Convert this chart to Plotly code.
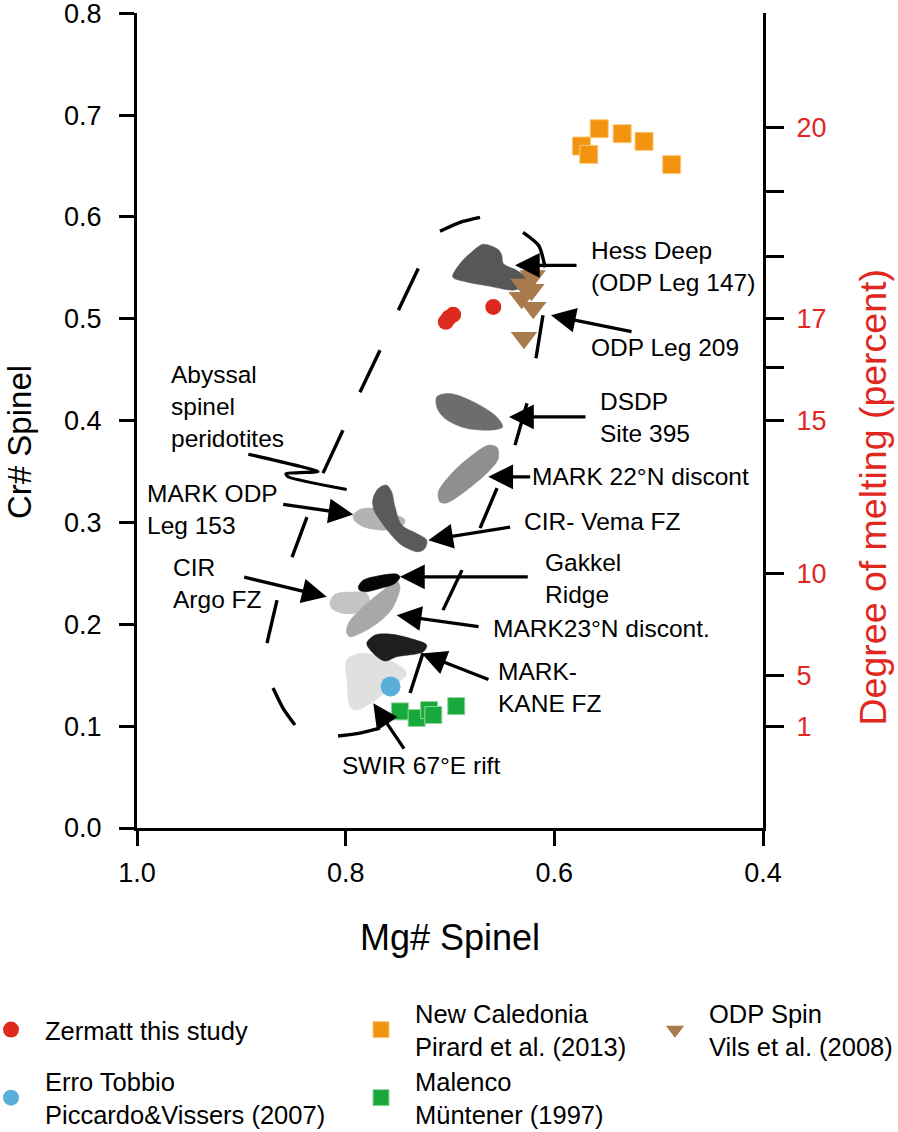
import plotly.graph_objects as go

FONT = "Liberation Sans, Arial, Helvetica, sans-serif"
RED = "#e0281e"

# ---------------- axes ----------------
x_ticks = [1.0, 0.8, 0.6, 0.4]
x_ticklabels = ["1.0", "0.8", "0.6", "0.4"]
y_ticks = [0.0, 0.1, 0.2, 0.3, 0.4, 0.5, 0.6, 0.7, 0.8]
y_ticklabels = ["0.0", "0.1", "0.2", "0.3", "0.4", "0.5", "0.6", "0.7", "0.8"]
melt_tick_pos = [0.688, 0.625, 0.5615, 0.5, 0.452, 0.4, 0.25, 0.15, 0.1]
melt_tick_labels = ["20", "", "", "17", "", "15", "10", "5", "1"]

# ---------------- point data (Mg#, Cr#) ----------------
zermatt_mg = [0.704, 0.697, 0.701, 0.6585]
zermatt_cr = [0.497, 0.504, 0.501, 0.5116]
erro_mg = [0.757]
erro_cr = [0.139]
newcal_mg = [0.574, 0.557, 0.567, 0.535, 0.514, 0.4875]
newcal_cr = [0.6696, 0.6866, 0.6614, 0.6817, 0.6742, 0.6513]
malenco_mg = [0.748, 0.732, 0.720, 0.716, 0.694]
malenco_cr = [0.1145, 0.108, 0.1158, 0.1109, 0.1197]
odp_mg = [0.6207, 0.6297, 0.6313, 0.6202, 0.6291, 0.622]
odp_cr = [0.5419, 0.5337, 0.5207, 0.5108, 0.4814, 0.5285]

# ---------------- fields (polygons, Mg#, Cr#) ----------------
swir_mg = [0.7990, 0.7863, 0.7639, 0.7447, 0.7415, 0.7575, 0.7735, 0.7894, 0.7958, 0.7984]
swir_cr = [0.1649, 0.1714, 0.1675, 0.1567, 0.1511, 0.1371, 0.1239, 0.1158, 0.1190, 0.1420]
kane_mg = [0.7798, 0.7719, 0.7575, 0.7383, 0.7223, 0.7256, 0.7511, 0.7623, 0.7735]
kane_cr = [0.1813, 0.1894, 0.1904, 0.1862, 0.1796, 0.1730, 0.1681, 0.1639, 0.1714]
argo_mg = [0.8150, 0.8102, 0.7958, 0.7798, 0.7767, 0.7863, 0.8023, 0.8134]
argo_cr = [0.2221, 0.2296, 0.2316, 0.2303, 0.2172, 0.2113, 0.2107, 0.2156]
mark23_mg = [0.7990, 0.7975, 0.7831, 0.7639, 0.7511, 0.7479, 0.7543, 0.7639, 0.7798, 0.7958]
mark23_cr = [0.1911, 0.2009, 0.2172, 0.2336, 0.2424, 0.2368, 0.2172, 0.2058, 0.1943, 0.1877]
gakkel_mg = [0.7879, 0.7831, 0.7703, 0.7511, 0.7479, 0.7527, 0.7671, 0.7815, 0.7869]
gakkel_cr = [0.2368, 0.2434, 0.2473, 0.2493, 0.2466, 0.2401, 0.2352, 0.2319, 0.2336]
mark153_mg = [0.7927, 0.7863, 0.7703, 0.7511, 0.7431, 0.7463, 0.7639, 0.7831, 0.7920]
mark153_cr = [0.3072, 0.3128, 0.3137, 0.3072, 0.3023, 0.2957, 0.2924, 0.2957, 0.3023]
vema_mg = [0.7741, 0.7687, 0.7607, 0.7559, 0.7527, 0.7463, 0.7319, 0.7223, 0.7240, 0.7304, 0.7463, 0.7575, 0.7671, 0.7728]
vema_cr = [0.3219, 0.3334, 0.3366, 0.3300, 0.3153, 0.2974, 0.2892, 0.2826, 0.2745, 0.2712, 0.2777, 0.2892, 0.3023, 0.3121]
mark22_mg = [0.7096, 0.7112, 0.7000, 0.6808, 0.6633, 0.6547, 0.6537, 0.6633, 0.6840, 0.7032]
mark22_cr = [0.3202, 0.3300, 0.3464, 0.3644, 0.3759, 0.3736, 0.3628, 0.3497, 0.3317, 0.3192]
dsdp_mg = [0.7127, 0.7000, 0.6744, 0.6552, 0.6495, 0.6617, 0.6872, 0.7048, 0.7122]
dsdp_cr = [0.4233, 0.4266, 0.4168, 0.4036, 0.3938, 0.3906, 0.3932, 0.4021, 0.4119]
hess_mg = [0.6974, 0.6904, 0.6792, 0.6681, 0.6537, 0.6504, 0.6489, 0.6361, 0.6265, 0.6313, 0.6393, 0.6617, 0.6840]
hess_cr = [0.5410, 0.5542, 0.5656, 0.5731, 0.5679, 0.5623, 0.5542, 0.5476, 0.5394, 0.5306, 0.5280, 0.5319, 0.5361]

# abyssal spinel peridotite field: dashed boundary, one stroke per dash
abyssal_dash_mg = [
    [0.7304, 0.7495], [0.7671, 0.7863], [0.8026, 0.8217], [0.8371, 0.8514], [0.8658, 0.8754],
    [0.8696, 0.8601, 0.8486], [0.8073, 0.7863, 0.7671], [0.7383, 0.7259], [0.7067, 0.6885],
    [0.6712, 0.6549], [0.6377, 0.6262], [0.6176, 0.6109], [0.6089, 0.6150, 0.6300],
    [0.6712, 0.6904, 0.7096],
]
abyssal_dash_cr = [
    [0.5493, 0.5083], [0.4691, 0.4279], [0.3906, 0.3484], [0.3052, 0.2659], [0.2237, 0.1815],
    [0.1374, 0.1178, 0.1011], [0.0903, 0.0932, 0.0981], [0.1325, 0.1717], [0.2139, 0.2532],
    [0.2944, 0.3337], [0.3759, 0.4171], [0.4612, 0.5034], [0.5505, 0.5719, 0.5849],
    [0.5996, 0.5947, 0.5859],
]
leader_mg = [0.8933, 0.8265, 0.8438, 0.8572, 0.8553, 0.7990]
leader_cr = [0.3670, 0.3499, 0.3489, 0.3479, 0.3449, 0.3324]

# ---------------- labels and arrows ----------------
label_text = ["Hess Deep<br>(ODP Leg 147)", "ODP Leg 209", "DSDP<br>Site 395", "MARK 22°N discont",
              "CIR- Vema FZ", "Gakkel<br>Ridge", "MARK23°N discont.", "MARK-<br>KANE FZ",
              "SWIR 67°E rift", "MARK ODP<br>Leg 153", "CIR<br>Argo FZ", "Abyssal<br>spinel<br>peridotites"]
label_mg = [0.5658, 0.5658, 0.5572, 0.6224, 0.6300, 0.6099, 0.6600, 0.6552, 0.8048, 0.9914, 0.9667, 0.9684]
label_cr = [0.5515, 0.4720, 0.4028, 0.3448, 0.3006, 0.2453, 0.1960, 0.1379, 0.0618, 0.3124, 0.2396, 0.4134]

arrow_tail_mg = [0.5773, 0.5246, 0.5687, 0.6217, 0.6409, 0.6240, 0.6712, 0.6617, 0.7431, 0.8613, 0.8987]
arrow_tail_cr = [0.5525, 0.4871, 0.4036, 0.3448, 0.2957, 0.2466, 0.1975, 0.1452, 0.0765, 0.3180, 0.2466]
arrow_head_mg = [0.6377, 0.6032, 0.6434, 0.6633, 0.7208, 0.7479, 0.7511, 0.7271, 0.7735, 0.7927, 0.8182]
arrow_head_cr = [0.5525, 0.5034, 0.4036, 0.3448, 0.2826, 0.2466, 0.2090, 0.1714, 0.1224, 0.3079, 0.2270]

fig = go.Figure()

fields = [
    (swir_mg, swir_cr, "#e1e0e1"),
    (kane_mg, kane_cr, "#1e1e1e"),
    (argo_mg, argo_cr, "#c4c4c4"),
    (mark23_mg, mark23_cr, "#a8a8a8"),
    (gakkel_mg, gakkel_cr, "#050505"),
    (mark153_mg, mark153_cr, "#b3b3b3"),
    (vema_mg, vema_cr, "#5a5a5a"),
    (mark22_mg, mark22_cr, "#8f8f8f"),
    (dsdp_mg, dsdp_cr, "#6d6d6d"),
    (hess_mg, hess_cr, "#575757"),
]
for mg, cr, col in fields:
    fig.add_trace(go.Scatter(x=mg + mg[:1], y=cr + cr[:1], mode="lines", fill="toself",
                             fillcolor=col, line=dict(color=col, width=0.5, shape="spline", smoothing=0.9),
                             showlegend=False, hoverinfo="skip"))

for sx, sy in zip(abyssal_dash_mg, abyssal_dash_cr):
    fig.add_trace(go.Scatter(x=sx, y=sy, mode="lines",
                             line=dict(color="black", width=3.4, shape="spline", smoothing=0.7,
                                       simplify=False),
                             showlegend=False, hoverinfo="skip"))
fig.add_trace(go.Scatter(x=leader_mg, y=leader_cr, mode="lines",
                         line=dict(color="black", width=3.2, shape="spline", smoothing=0.6),
                         showlegend=False, hoverinfo="skip"))

# empty trace to activate the right axis
fig.add_trace(go.Scatter(x=[], y=[], yaxis="y2", showlegend=False, hoverinfo="skip"))

fig.add_trace(go.Scatter(x=malenco_mg, y=malenco_cr, mode="markers", name="Malenco<br>Müntener (1997)",
                         marker=dict(symbol="square", size=17, color="#19a83b", line=dict(color="#8fd49d", width=1)),
                         legend="legend4"))
fig.add_trace(go.Scatter(x=erro_mg, y=erro_cr, mode="markers", name="Erro Tobbio<br>Piccardo&Vissers (2007)",
                         marker=dict(symbol="circle", size=20, color="#5aafda"), legend="legend2"))
fig.add_trace(go.Scatter(x=newcal_mg, y=newcal_cr, mode="markers", name="New Caledonia<br>Pirard et al. (2013)",
                         marker=dict(symbol="square", size=18, color="#f39411", line=dict(color="#fbc878", width=1)),
                         legend="legend3"))
fig.add_trace(go.Scatter(x=zermatt_mg, y=zermatt_cr, mode="markers", name="Zermatt this study",
                         marker=dict(symbol="circle", size=16, color="#dc2b1e"), legend="legend"))
fig.add_trace(go.Scatter(x=odp_mg, y=odp_cr, mode="markers", name="ODP Spin<br>Vils et al. (2008)",
                         marker=dict(symbol="triangle-down", size=23, color="#a97b4c"), legend="legend5"))

annotations = []
for t, xm, yc in zip(label_text, label_mg, label_cr):
    annotations.append(dict(x=xm, y=yc, xref="x", yref="y", text=t, showarrow=False,
                            xanchor="left", yanchor="middle", align="left", borderpad=0,
                            font=dict(size=24.5, color="black", family=FONT)))
for tx, ty, hx, hy in zip(arrow_tail_mg, arrow_tail_cr, arrow_head_mg, arrow_head_cr):
    annotations.append(dict(x=hx, y=hy, ax=tx, ay=ty, xref="x", yref="y", axref="x", ayref="y",
                            text="", showarrow=True, arrowhead=2, arrowsize=1.5, arrowwidth=3.3,
                            arrowcolor="black"))

# axis titles
annotations.append(dict(x=-0.1885, y=0.4736, xref="paper", yref="paper", text="Cr# Spinel",
                        textangle=-90, showarrow=False, xanchor="center", yanchor="middle",
                        font=dict(size=33, color="black", family=FONT)))
annotations.append(dict(x=0.5, y=(828 - 937) / 815, xref="paper", yref="paper", text="Mg# Spinel",
                        showarrow=False, xanchor="center", yanchor="middle",
                        font=dict(size=36, color="black", family=FONT)))
annotations.append(dict(x=1.1757, y=0.4055, xref="paper", yref="paper", text="Degree of melting (percent)",
                        textangle=-90, showarrow=False, xanchor="center", yanchor="middle",
                        font=dict(size=37.5, color=RED, family=FONT)))

axis_common = dict(ticks="outside", ticklen=15, tickwidth=3, tickcolor="black", showline=True,
                   linewidth=3, linecolor="black", showgrid=False, zeroline=False,
                   ticklabeloverflow="allow")

legend_common = dict(xref="paper", yref="paper", xanchor="left", yanchor="middle",
                     bgcolor="rgba(0,0,0,0)", borderwidth=0, itemwidth=58,
                     font=dict(size=25.5, color="black", family=FONT))

row1_y = (828 - 1030) / 815
row2_y = (828 - 1098) / 815

fig.update_layout(
    width=898, height=1132,
    margin=dict(l=137, r=135, t=13, b=304, autoexpand=False),
    plot_bgcolor="white", paper_bgcolor="white",
    font=dict(family=FONT, color="black"),
    xaxis=dict(range=[1.0, 0.4], tickvals=x_ticks, ticktext=x_ticklabels,
               tickfont=dict(size=27, color="black"), ticklabelstandoff=4, **axis_common),
    yaxis=dict(range=[0, 0.8002], tickvals=y_ticks, ticktext=y_ticklabels,
               tickfont=dict(size=27, color="black"), ticklabelstandoff=12, **axis_common),
    yaxis2=dict(range=[0, 0.8002], overlaying="y", side="right", anchor="x",
                tickvals=melt_tick_pos, ticktext=melt_tick_labels,
                tickfont=dict(size=27, color=RED), ticklabelstandoff=7,
                ticks="outside", ticklen=18, tickwidth=3, tickcolor="black", showline=True,
                linewidth=3, linecolor="black", showgrid=False, zeroline=False,
                ticklabeloverflow="allow"),
    legend=dict(x=(-23 - 137) / 626, y=row1_y, **legend_common),
    legend2=dict(x=(-23 - 137) / 626, y=row2_y, **legend_common),
    legend3=dict(x=(347 - 137) / 626, y=row1_y, **legend_common),
    legend4=dict(x=(347 - 137) / 626, y=row2_y, **legend_common),
    legend5=dict(x=(641 - 137) / 626, y=row1_y, **legend_common),
    annotations=annotations,
    showlegend=True,
)

fig.write_html("out.html", config={"displayModeBar": False},
               post_script="document.body.style.margin='0px';")
